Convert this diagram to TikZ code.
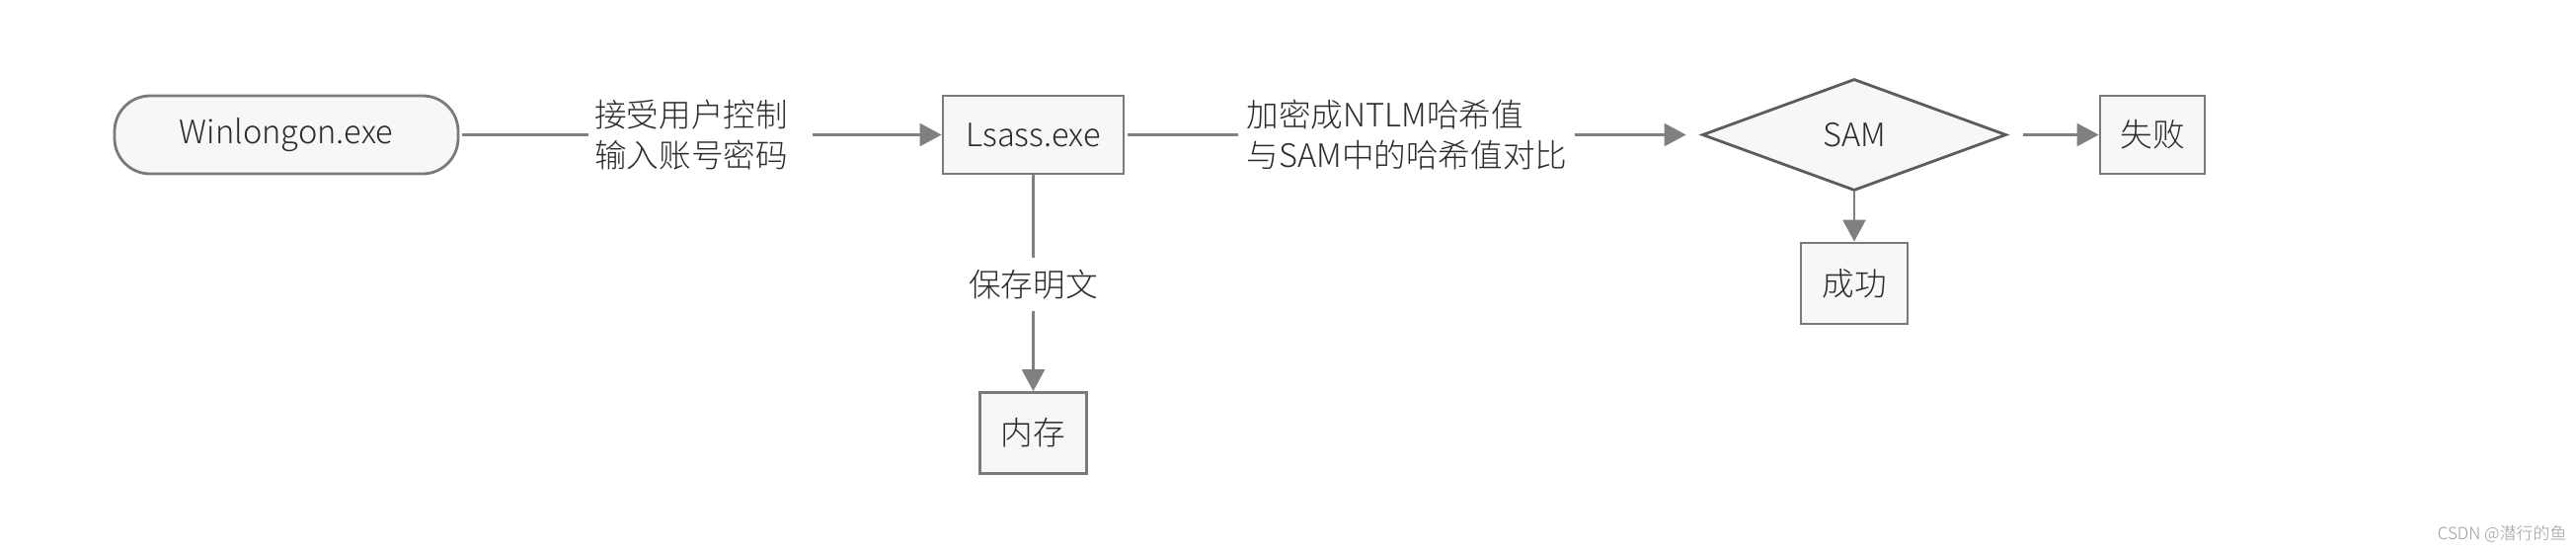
\documentclass[tikz,border=0pt]{standalone}
\usepackage{fontspec}
\setmainfont{Noto Sans CJK SC Light}
\usetikzlibrary{shapes.geometric,arrows.meta}
\definecolor{boxfill}{HTML}{F7F7F7}
\definecolor{boxline}{HTML}{7A7A7A}
\definecolor{dialine}{HTML}{5C5C5C}
\definecolor{conn}{HTML}{808080}
\definecolor{txt}{HTML}{2B2B2B}
\definecolor{wm}{HTML}{9A9A9A}
\tikzset{
  base/.style={text=txt, font=\fontsize{16.3}{20.8}\selectfont, inner sep=0pt},
  procbox/.style={base, draw=boxline, fill=boxfill, line width=1.4pt},
  pill/.style={procbox, rounded corners=18pt},
  decision/.style={base, draw=dialine, fill=boxfill, line width=1.4pt, diamond, shape aspect=2.7},
  edgelabel/.style={base, align=left},
  conline/.style={draw=conn, line width=1.25pt},
  conarrow/.style={conline, -{Triangle[length=11pt,width=11.5pt]}},
}
\begin{document}
\begin{tikzpicture}[x=0.5pt,y=-0.5pt]
\useasboundingbox (0,0) rectangle (2609,559);
\node[pill, minimum width=174pt, minimum height=39.5pt] (win) at (290,136.5) {Winlongon.exe};
\node[edgelabel] (lab1) at (700,136.5) {接受用户控制\\输入账号密码};
\node[procbox, minimum width=91.5pt, minimum height=39.5pt] (lsass) at (1046.5,136.5) {Lsass.exe};
\node[edgelabel] (lab2) at (1425,136.5) {加密成NTLM哈希值\\与SAM中的哈希值对比};
\node[decision, minimum width=154pt, minimum height=56.5pt] (sam) at (1878,136.5) {SAM};
\node[procbox, minimum width=53pt, minimum height=39.5pt] (fail) at (2180,136.5) {失败};
\node[procbox, minimum width=54pt, minimum height=41pt] (succ) at (1878,287) {成功};
\node[edgelabel] (lab3) at (1046.5,288) {保存明文};
\node[procbox, minimum width=54pt, minimum height=41pt] (mem) at (1046.5,438.5) {内存};
\node[text=wm, font=\fontsize{8.5}{10}\selectfont, inner sep=0pt, anchor=east] (mark) at (2600,541) {CSDN @潜行的鱼};

\draw[conline, shorten <=1.5pt, shorten >=3pt] (win.east) -- (lab1.west |- win.east);
\draw[conarrow, shorten <=12.5pt] (lab1.east |- lsass.west) -- (lsass.west);
\draw[conline, shorten <=1.5pt, shorten >=4pt] (lsass.east) -- (lab2.west |- lsass.east);
\draw[conarrow, shorten <=3.5pt, shorten >=7.5pt] (lab2.east |- sam.west) -- (sam.west);
\draw[conarrow, shorten <=8pt] (sam.east) -- (fail.west);
\draw[conarrow] (sam.south) -- (succ.north);
\draw[conline, shorten >=6pt] (lsass.south) -- (lab3.north);
\draw[conarrow, shorten <=6pt] (lab3.south) -- (mem.north);
\end{tikzpicture}
\end{document}
